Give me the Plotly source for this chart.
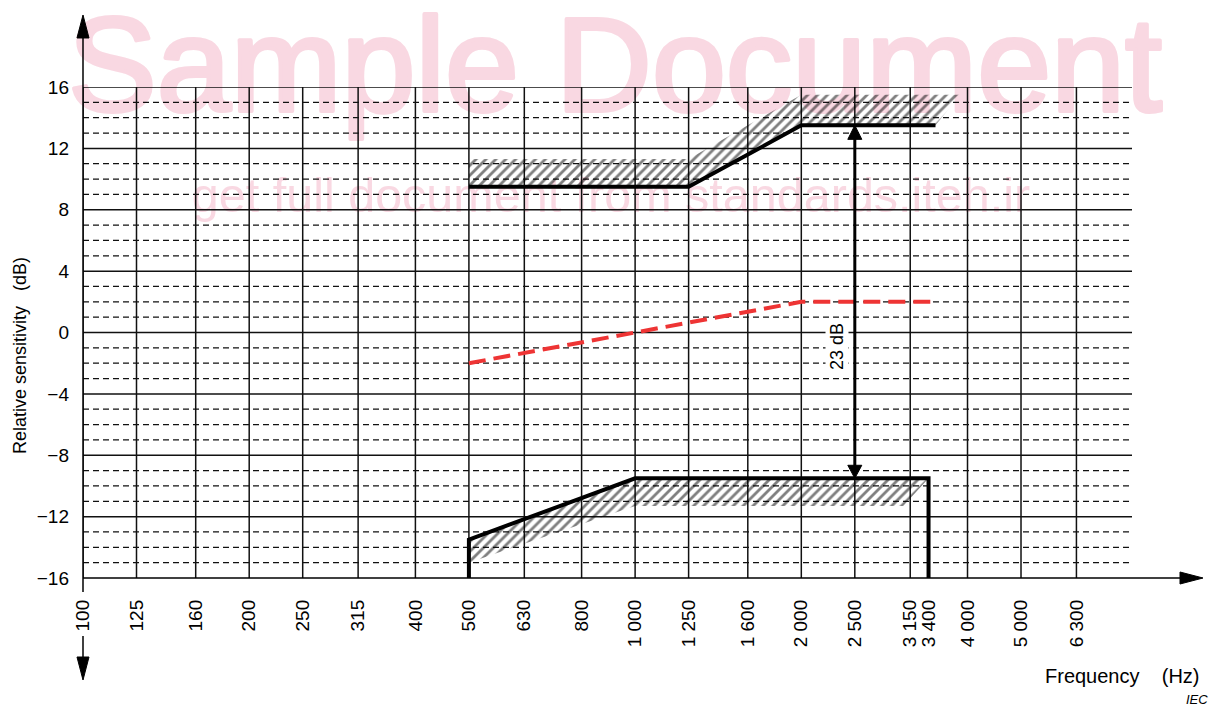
import base64
import numpy as np
import plotly.graph_objects as go

# ---- data -------------------------------------------------------------
# one-third-octave band centres used for the vertical grid (8000 = right border)
band_freqs = [100, 125, 160, 200, 250, 315, 400, 500, 630, 800, 1000,
              1250, 1600, 2000, 2500, 3150, 4000, 5000, 6300, 8000]
tick_freqs = [100, 125, 160, 200, 250, 315, 400, 500, 630, 800, 1000,
              1250, 1600, 2000, 2500, 3150, 3400, 4000, 5000, 6300]
tick_labels = ["100", "125", "160", "200", "250", "315", "400", "500",
               "630", "800", "1 000", "1 250", "1 600", "2 000", "2 500",
               "3 150", "3 400", "4 000", "5 000", "6 300"]
db_ticks = [-16, -12, -8, -4, 0, 4, 8, 12, 16]
db_labels = ["\u221216", "\u221212", "\u22128", "\u22124", "0", "4", "8", "12", "16"]

# upper tolerance limit
upper_f = [500, 1250, 2000, 3500]
upper_db = [9.5, 9.5, 13.5, 13.5]
# lower tolerance limit
lower_f = [500, 500, 1000, 3400, 3400]
lower_db = [-16, -13.5, -9.5, -9.5, -16]
# typical response (dashed red)
typical_f = [500, 1000, 2000, 3500]
typical_db = [-2, 0, 2, 2]
# hatched forbidden zones
hatch_up_f = [500, 1250, 2000, 3500, 3880, 2000, 1250, 500]
hatch_up_db = [9.5, 9.5, 13.5, 13.5, 15.5, 15.5, 11.3, 11.3]
hatch_lo_f = [500, 1000, 3400, 3060, 1000, 500]
hatch_lo_db = [-13.5, -9.5, -9.5, -11.3, -11.3, -15.0]
# spread between limits
span_f = 2500
span_top, span_bottom = 13.5, -9.5

# ---- geometry helpers --------------------------------------------------
W_FIG, H_FIG = 1217, 709
L, T, W, H = 83, 87, 1049, 491
X0, X1 = 2.0, 3.9          # log10 frequency range
Y0, Y1 = -16, 16

def lx(f):
    return np.log10(np.asarray(f, dtype=float))

def px_x(xlog):
    return L + (xlog - X0) / (X1 - X0) * W

def px_y(db):
    return T + (Y1 - db) / (Y1 - Y0) * H

def pap_x(px):
    return (px - L) / W

def pap_y(py):
    return (T + H - py) / H

FONT = "Liberation Sans, Arial, sans-serif"
PINK = "#f9d8e2"

fig = go.Figure()

# watermark as a background image so the grid is drawn over it
wm_svg = f"""<svg xmlns="http://www.w3.org/2000/svg" width="{W_FIG}" height="{H_FIG}">
<text x="615" y="111" text-anchor="middle" font-family="Liberation Sans, Arial"
 font-size="133" fill="{PINK}" stroke="{PINK}" stroke-width="4"
 stroke-linejoin="round">Sample Document</text>
<text x="611" y="212" text-anchor="middle" font-family="Liberation Sans, Arial"
 font-size="48.5" fill="{PINK}">get full document from standards.iteh.ir</text>
</svg>"""
wm_src = "data:image/svg+xml;base64," + base64.b64encode(wm_svg.encode()).decode()
fig.add_layout_image(dict(source=wm_src, xref="paper", yref="paper",
                          x=pap_x(0), y=pap_y(0), sizex=W_FIG / W, sizey=H_FIG / H,
                          xanchor="left", yanchor="top", sizing="stretch",
                          layer="below"))

# grid
def seg_lines(pairs):
    xs, ys = [], []
    for (xa, ya), (xb, yb) in pairs:
        xs += [xa, xb, None]
        ys += [ya, yb, None]
    return xs, ys

vx, vy = seg_lines([((v, Y0), (v, Y1)) for v in lx(band_freqs)])
fig.add_trace(go.Scatter(x=vx, y=vy, mode="lines",
                         line=dict(color="#111", width=1.5),
                         hoverinfo="skip", showlegend=False))
major = [d for d in range(Y0 + 4, Y1 + 1, 4)]
minor = [d for d in range(Y0, Y1 + 1) if d % 4 != 0]
mx, my = seg_lines([((X0, d), (X1, d)) for d in major])
fig.add_trace(go.Scatter(x=mx, y=my, mode="lines",
                         line=dict(color="#111", width=1.5),
                         hoverinfo="skip", showlegend=False))
nx, ny = seg_lines([((X0, d), (X1, d)) for d in minor])
fig.add_trace(go.Scatter(x=nx, y=ny, mode="lines",
                         line=dict(color="#111", width=1.3, dash="6px,4px"),
                         hoverinfo="skip", showlegend=False))

# hatched zones
for hf, hd in ((hatch_up_f, hatch_up_db), (hatch_lo_f, hatch_lo_db)):
    fig.add_trace(go.Scatter(
        x=lx(hf), y=hd, mode="lines", fill="toself",
        line=dict(width=0, color="rgba(0,0,0,0)"),
        fillcolor="rgba(0,0,0,0)",
        fillpattern=dict(shape="/", fgcolor="black", bgcolor="rgba(0,0,0,0)",
                         size=7, solidity=0.4),
        hoverinfo="skip", showlegend=False))

# limit curves
fig.add_trace(go.Scatter(x=lx(upper_f), y=upper_db, mode="lines",
                         line=dict(color="black", width=4),
                         hoverinfo="skip", showlegend=False))
fig.add_trace(go.Scatter(x=lx(lower_f), y=lower_db, mode="lines",
                         line=dict(color="black", width=4),
                         hoverinfo="skip", showlegend=False))
fig.add_trace(go.Scatter(x=lx(typical_f), y=typical_db, mode="lines",
                         line=dict(color="#ee3434", width=4, dash="17px,8px"),
                         hoverinfo="skip", showlegend=False))

# ---- axes with arrows --------------------------------------------------
shapes = []

def pline(xa, ya, xb, yb, width=1.5):
    shapes.append(dict(type="line", xref="paper", yref="paper",
                       x0=pap_x(xa), y0=pap_y(ya), x1=pap_x(xb), y1=pap_y(yb),
                       line=dict(color="black", width=width), layer="above"))

def ptri(pts):
    path = "M " + " L ".join(f"{pap_x(a):.5f},{pap_y(b):.5f}" for a, b in pts) + " Z"
    shapes.append(dict(type="path", xref="paper", yref="paper", path=path,
                       fillcolor="black", line=dict(color="black", width=1),
                       layer="above"))

# vertical axis
pline(L, 30, L, 592)
pline(L, 636, L, 668)
ptri([(L - 6, 38), (L, 15), (L + 6, 38)])
ptri([(L - 6, 657), (L, 680), (L + 6, 657)])
# horizontal axis
pline(L, T + H, 1190, T + H)
ptri([(1180, T + H - 6), (1203, T + H), (1180, T + H + 6)])

# double arrow showing the spread between the limits
ax_px = px_x(float(lx(span_f)))
top_px, bot_px = px_y(span_top), px_y(span_bottom)
pline(ax_px, top_px + 12, ax_px, bot_px - 12, width=3)
ptri([(ax_px - 7, top_px + 14), (ax_px, top_px), (ax_px + 7, top_px + 14)])
ptri([(ax_px - 7, bot_px - 13), (ax_px, bot_px), (ax_px + 7, bot_px - 13)])

def note(text, px, py, size, angle=0, **kw):
    d = dict(text=text, xref="paper", yref="paper", x=pap_x(px), y=pap_y(py),
             xanchor="center", yanchor="middle", showarrow=False,
             textangle=angle, font=dict(family=FONT, size=size, color="black"))
    d.update(kw)
    return d

annotations = [
    note(f"{span_top - span_bottom:g} dB", 837, 347, 18, -90,
         bgcolor="white", borderpad=1),
    note("Relative sensitivity &nbsp;&nbsp;(dB)", 20, 356, 18, -90),
    note("Frequency &nbsp;&nbsp;&nbsp;(Hz)", 1122, 676, 20),
    note("<i>IEC</i>", 1197, 699, 13),
]

fig.update_layout(
    width=W_FIG, height=H_FIG,
    margin=dict(l=L, r=W_FIG - L - W, t=T, b=H_FIG - T - H, pad=0),
    paper_bgcolor="white", plot_bgcolor="rgba(0,0,0,0)",
    shapes=shapes, annotations=annotations, showlegend=False,
    font=dict(family=FONT, color="black"),
)
fig.update_xaxes(range=[X0, X1], tickvals=lx(tick_freqs), ticktext=tick_labels,
                 tickangle=-90, showgrid=False, zeroline=False, showline=False,
                 ticks="", ticklabelstandoff=17,
                 tickfont=dict(family=FONT, size=19, color="black"))
fig.update_yaxes(range=[Y0, Y1], tickvals=db_ticks, ticktext=db_labels,
                 showgrid=False, zeroline=False, showline=False,
                 ticks="", ticklabelstandoff=13,
                 tickfont=dict(family=FONT, size=19, color="black"))

fig.write_html("out.html")
